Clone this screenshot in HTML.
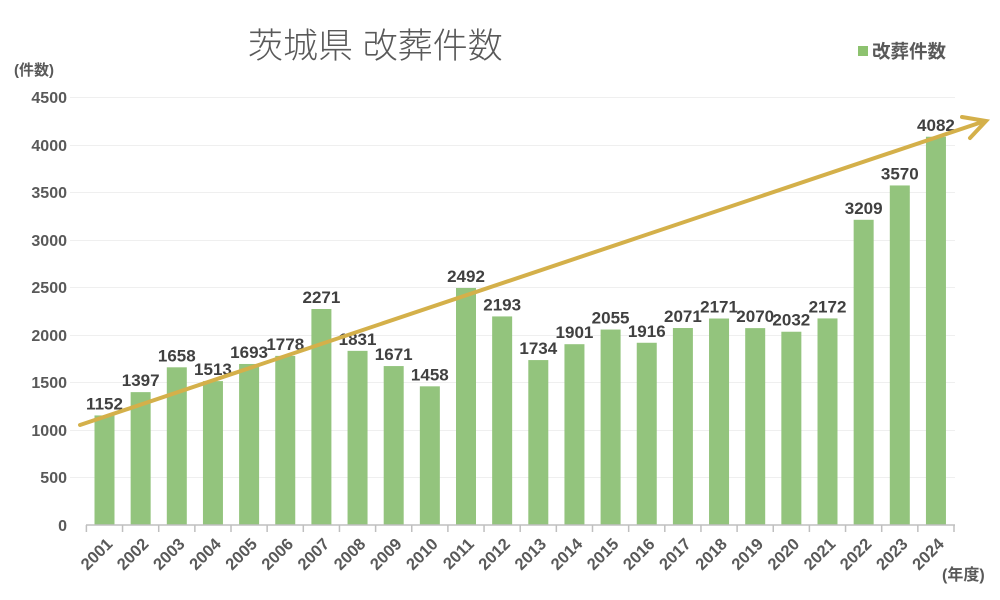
<!DOCTYPE html>
<html><head><meta charset="utf-8"><style>
html,body{margin:0;padding:0;background:#fff;}
svg{display:block;font-family:"Liberation Sans","Noto Sans CJK JP",sans-serif;}
</style></head><body>
<svg width="1000" height="600" viewBox="0 0 1000 600" xmlns="http://www.w3.org/2000/svg">
<rect width="1000" height="600" fill="#fff"/>
<text x="248" y="58" font-size="35" fill="#595959" font-weight="300">茨城県 改葬件数</text>
<rect x="858" y="46" width="10" height="10" fill="#8dc26f"/>
<text x="872" y="58" font-size="18.5" font-weight="bold" fill="#595959">改葬件数</text>
<text x="14" y="75" font-size="15" font-weight="bold" fill="#595959">(件数)</text>
<text x="942" y="580" font-size="16" font-weight="bold" fill="#595959">(年度)</text>
<g stroke="#efefef" stroke-width="1">
<line x1="70" x2="955" y1="97.5" y2="97.5"/><line x1="70" x2="955" y1="145.5" y2="145.5"/>
<line x1="70" x2="955" y1="192.5" y2="192.5"/><line x1="70" x2="955" y1="240.5" y2="240.5"/>
<line x1="70" x2="955" y1="287.5" y2="287.5"/><line x1="70" x2="955" y1="335.5" y2="335.5"/>
<line x1="70" x2="955" y1="382.5" y2="382.5"/><line x1="70" x2="955" y1="430.5" y2="430.5"/>
<line x1="70" x2="955" y1="477.5" y2="477.5"/>
</g>
<g font-size="16" font-weight="bold" fill="#595959" text-anchor="end">
<text x="67" y="103">4500</text><text x="67" y="151">4000</text><text x="67" y="198">3500</text>
<text x="67" y="246">3000</text><text x="67" y="293">2500</text><text x="67" y="341">2000</text>
<text x="67" y="388">1500</text><text x="67" y="436">1000</text><text x="67" y="483">500</text>
<text x="67" y="531">0</text>
</g>
<g id="bars"></g>
<line x1="86" x2="955" y1="525" y2="525" stroke="#bfbfbf" stroke-width="1.5"/>
<g id="ticks" stroke="#bfbfbf" stroke-width="1.5"></g>
<g id="labels"></g>
<g stroke="#d4b04a" stroke-width="4" fill="none" stroke-linecap="round">
<line x1="80" y1="425" x2="985" y2="121"/>
<polyline points="962,117 986,121 970,138"/>
</g>
<script>
var v=[1152,1397,1658,1513,1693,1778,2271,1831,1671,1458,2492,2193,1734,1901,2055,1916,2071,2171,2070,2032,2172,3209,3570,4082];
var ns="http://www.w3.org/2000/svg",b=document.getElementById('bars'),t=document.getElementById('ticks'),l=document.getElementById('labels');
function el(n,a,p,txt){var e=document.createElementNS(ns,n);for(var k in a)e.setAttribute(k,a[k]);if(txt)e.textContent=txt;p.appendChild(e);return e;}
for(var i=0;i<24;i++){var c=104.5+i*36.15,y=525-v[i]*428/4500;
el('rect',{x:c-10,y:y,width:20,height:525-y,fill:'#93c47d'},b);
el('line',{x1:c-18.1,x2:c-18.1,y1:525,y2:532},t);
el('text',{x:c,y:y-6,'font-size':17,'font-weight':'bold',fill:'#404040','text-anchor':'middle'},l,String(v[i]));
el('text',{x:0,y:0,'font-size':16.5,'font-weight':'bold',fill:'#595959','text-anchor':'end',transform:'translate('+(c+9)+',545) rotate(-45)'},l,String(2001+i));}
el('line',{x1:954,x2:954,y1:525,y2:532},t);
</script>
</svg>
</body></html>
